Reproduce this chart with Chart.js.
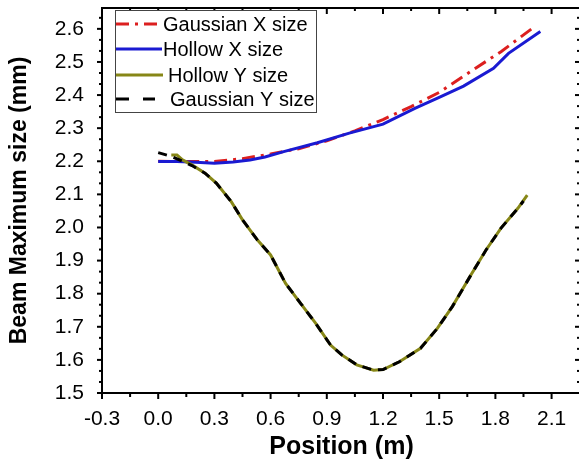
<!DOCTYPE html>
<html><head><meta charset="utf-8">
<script src="https://cdn.jsdelivr.net/npm/chart.js@4"></script>
<style>
html,body{margin:0;padding:0;overflow:hidden;background:#fff;width:579px;height:462px}
#wrap{width:579px;height:462px;overflow:hidden;position:relative}
canvas{display:block}
</style></head>
<body><div id="wrap"><canvas id="c" width="600" height="462" style="width:600px;height:462px"></canvas></div>
<script>
// ---- data ----
const seriesNames = ["Gaussian X size", "Hollow X size", "Hollow Y size", "Gaussian Y size"];

const gaussX_x = [0, 0.15, 0.3, 0.45, 0.6, 0.75, 0.9, 1.05, 1.2, 1.35, 1.5, 1.68, 1.83, 2.01];
const gaussX_y = [2.2, 2.199, 2.199, 2.208, 2.222, 2.238, 2.262, 2.292, 2.326, 2.365, 2.408, 2.476, 2.531, 2.607];

const hollowX_x = [0, 0.1, 0.2, 0.3, 0.4, 0.49, 0.57, 0.67, 0.85, 1.02, 1.2, 1.37, 1.5, 1.63, 1.79, 1.87, 2.04];
const hollowX_y = [2.199, 2.199, 2.197, 2.194, 2.198, 2.204, 2.213, 2.229, 2.256, 2.285, 2.312, 2.36, 2.393, 2.427, 2.481, 2.526, 2.592];

const hollowY_x = [0.07, 0.1, 0.13, 0.18, 0.25, 0.31, 0.39, 0.45, 0.53, 0.6, 0.68, 0.76, 0.84, 0.92, 0.98, 1.06, 1.15, 1.2, 1.29, 1.4, 1.49, 1.57, 1.67, 1.75, 1.83, 1.92, 1.97];
const hollowY_y = [2.219, 2.219, 2.204, 2.189, 2.164, 2.134, 2.078, 2.023, 1.962, 1.917, 1.831, 1.771, 1.711, 1.645, 1.615, 1.585, 1.569, 1.571, 1.595, 1.635, 1.695, 1.761, 1.857, 1.932, 1.998, 2.058, 2.098];

const gaussY_x = [0, 0.07, 0.13, 0.18, 0.25, 0.31, 0.39, 0.45, 0.53, 0.6, 0.68, 0.76, 0.84, 0.92, 0.98, 1.06, 1.15, 1.2, 1.29, 1.4, 1.49, 1.57, 1.67, 1.75, 1.83, 1.92, 1.95];
const gaussY_y = [2.226, 2.215, 2.2, 2.187, 2.164, 2.134, 2.078, 2.023, 1.962, 1.917, 1.831, 1.771, 1.711, 1.645, 1.615, 1.585, 1.569, 1.571, 1.595, 1.635, 1.695, 1.761, 1.857, 1.932, 1.998, 2.058, 2.08];

const xTicks = [-0.3, 0.0, 0.3, 0.6, 0.9, 1.2, 1.5, 1.8, 2.1];
const yTicks = [1.5, 1.6, 1.7, 1.8, 1.9, 2.0, 2.1, 2.2, 2.3, 2.4, 2.5, 2.6];
const xTitle = "Position (m)";
const yTitle = "Beam Maximum size (mm)";

// ---- styles ----
const colors = ["#dc1f1f", "#1a1ad2", "#878717", "#000000"];
const dashes = [[13, 6, 3, 6], [], [], [9, 7]];
const FONT = "'Liberation Sans', Arial, sans-serif";

const pts = (xs, ys) => xs.map((x, i) => ({x: x, y: ys[i]}));
const seriesData = [pts(gaussX_x, gaussX_y), pts(hollowX_x, hollowX_y), pts(hollowY_x, hollowY_y), pts(gaussY_x, gaussY_y)];

const datasets = seriesData.map((d, i) => ({
  label: seriesNames[i], data: d, showLine: true, pointRadius: 0, pointHoverRadius: 0,
  borderColor: colors[i], borderWidth: 3, borderDash: dashes[i],
  fill: false, tension: 0, order: 4 - i
}));

const framePlugin = {
  id: 'frame',
  afterDraw(chart) {
    const ctx = chart.ctx, xs = chart.scales.x, ys = chart.scales.y;
    const {left, right, top, bottom} = chart.chartArea;
    ctx.save();
    ctx.strokeStyle = '#000'; ctx.lineWidth = 2; ctx.setLineDash([]);
    ctx.strokeRect(left, top, right - left, bottom - top);
    const line = (x1, y1, x2, y2) => { ctx.beginPath(); ctx.moveTo(x1, y1); ctx.lineTo(x2, y2); ctx.stroke(); };
    for (let i = 0; i < xTicks.length; i++) {
      const p = xs.getPixelForValue(xTicks[i]);
      line(p, bottom, p, bottom + 6);
      line(p, top, p, top + 6);
      if (i < xTicks.length - 1) {
        const m = xs.getPixelForValue((xTicks[i] + xTicks[i + 1]) / 2);
        line(m, bottom, m, bottom + 4);
        line(m, top, m, top + 3);
      }
    }
    for (let i = 0; i < yTicks.length; i++) {
      const p = ys.getPixelForValue(yTicks[i]);
      line(left - 5, p, left, p);
      line(right - 6, p, right, p);
      const next = i < yTicks.length - 1 ? yTicks[i + 1] : yTicks[i] + 0.1;
      for (let k = 1; k <= 2; k++) {
        const v = yTicks[i] + (next - yTicks[i]) * k / 3;
        if (v > ys.max) continue;
        const m = ys.getPixelForValue(v);
        line(left - 3, m, left, m);
        line(right - 4, m, right, m);
      }
    }
    // legend
    ctx.lineWidth = 1; ctx.strokeStyle = '#444';
    ctx.fillStyle = '#fff';
    ctx.fillRect(115.5, 10.5, 201, 102);
    ctx.strokeRect(115.5, 10.5, 201, 102);
    const rows = [24, 49, 75, 99];
    const textX = [163, 163, 168, 170];
    const lineEnd = [162, 162, 163, 155];
    ctx.font = "20px " + FONT; ctx.textBaseline = 'middle'; ctx.textAlign = 'left';
    for (let i = 0; i < 4; i++) {
      ctx.strokeStyle = colors[i]; ctx.lineWidth = 3; ctx.setLineDash(i === 3 ? [13, 14] : dashes[i]);
      line(116, rows[i], lineEnd[i], rows[i]);
      ctx.setLineDash([]);
      ctx.fillStyle = '#000';
      ctx.fillText(seriesNames[i], textX[i], rows[i] + 1);
    }
    ctx.restore();
  }
};

new Chart(document.getElementById('c'), {
  type: 'scatter',
  data: {datasets: datasets},
  options: {
    responsive: false, animation: false, devicePixelRatio: 1,
    layout: {autoPadding: false, padding: {top: 8, right: 19, left: 0, bottom: 0}},
    plugins: {legend: {display: false}, tooltip: {enabled: false}},
    scales: {
      x: {
        type: 'linear', min: -0.3, max: 2.257,
        afterFit: s => { s.height = 69; s.paddingLeft = 0; s.paddingRight = 0; },
        afterBuildTicks: s => { s.ticks = xTicks.map(v => ({value: v})); },
        grid: {display: false, drawTicks: false}, border: {display: false},
        ticks: {autoSkip: false, maxRotation: 0, padding: 14, color: '#000',
          font: {family: FONT, size: 21}, callback: v => Number(v).toFixed(1)},
        title: {display: true, text: xTitle, color: '#000', padding: {top: 0, bottom: 0},
          font: {family: FONT, size: 25, weight: 'bold'}}
      },
      y: {
        type: 'linear', min: 1.5, max: 2.663,
        afterFit: s => { s.width = 102; s.paddingTop = 0; s.paddingBottom = 0; },
        afterBuildTicks: s => { s.ticks = yTicks.map(v => ({value: v})); },
        grid: {display: false, drawTicks: false}, border: {display: false},
        ticks: {autoSkip: false, padding: 18, color: '#000',
          font: {family: FONT, size: 21}, callback: v => Number(v).toFixed(1)},
        title: {display: true, text: yTitle, color: '#000', padding: {top: 6, bottom: 0},
          font: {family: FONT, size: 23, weight: 'bold'}}
      }
    }
  },
  plugins: [framePlugin]
});
</script>
</body></html>
